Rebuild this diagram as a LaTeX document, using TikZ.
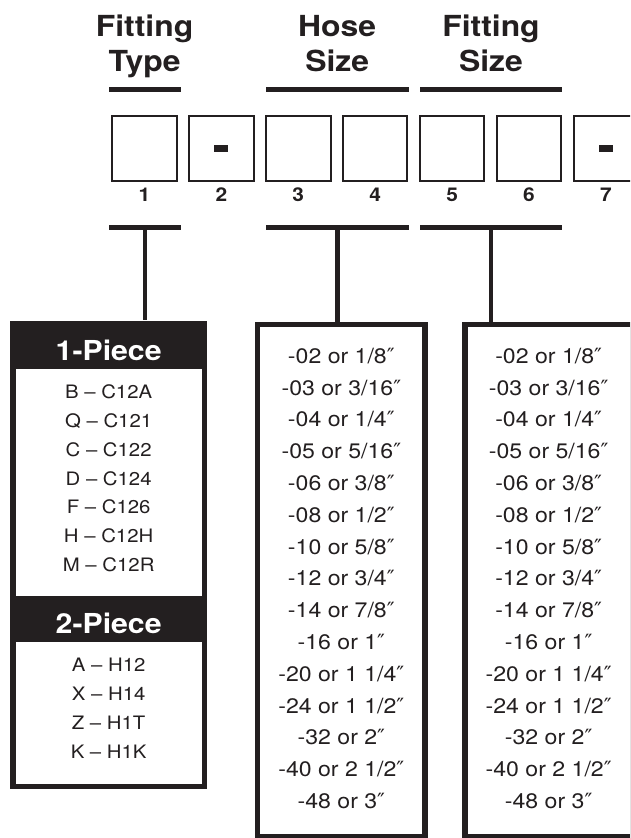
\documentclass[tikz,border=0pt]{standalone}
\usepackage{fontspec}
\setmainfont[FakeStretch=1.1]{TeX Gyre Heros}
\newfontfamily\primefont{DejaVu Sans}
\newcommand{\inchmark}{{\primefont\char"2033}}
\definecolor{ink}{RGB}{35,31,32}

\tikzset{every picture/.style={line width=0.75pt}}
\tikzset{
  headtext/.style={font=\bfseries\fontsize{29}{35}\selectfont, align=center, inner sep=0pt, text=ink, anchor=base},
  digitbox/.style={draw=ink, line width=2pt, minimum width=64.5pt, minimum height=64.7pt, inner sep=0pt},
  digitnum/.style={font=\bfseries\fontsize{19}{19}\selectfont, inner sep=0pt, text=ink, anchor=base},
  dashmark/.style={fill=ink, minimum width=14pt, minimum height=6.4pt, inner sep=0pt},
  groupbar/.style={fill=ink, minimum height=4.3pt, inner sep=0pt},
  stem/.style={draw=ink, line width=4.3pt},
  listbox/.style={draw=ink, fill=white, line width=5.3pt, inner sep=0pt},
  listtext/.style={font=\fontsize{21}{31.8}\selectfont, align=center, inner sep=0pt, text=ink, anchor=base},
  piecehead/.style={font=\bfseries\fontsize{27.5}{27.5}\selectfont, inner sep=0pt, text=white, anchor=base},
  piecetext/.style={font=\fontsize{18.5}{28.9}\selectfont, align=center, inner sep=0pt, text=ink, anchor=base}
}

\begin{document}
\begin{tikzpicture}[x=1pt,y=1pt,yscale=-1]
\useasboundingbox (0,0) rectangle (630,838);
\clip (0,0) rectangle (630,838);

% headings (base = last line)
\node[headtext] (typehead) at (144.6,71.7) {Fitting\\Type};
\node[headtext] (hosehead) at (337.2,71.7) {Hose\\Size};
\node[headtext] (sizehead) at (491,71.7) {Fitting\\Size};

% bars above and below the boxes
\node[groupbar, minimum width=72.3pt] (typetop) at (144.65,89.5) {};
\node[groupbar, minimum width=143pt] (hosetop) at (337.5,89.5) {};
\node[groupbar, minimum width=142pt] (sizetop) at (491,89.5) {};
\node[groupbar, minimum width=72.3pt] (typebar) at (144.65,227.5) {};
\node[groupbar, minimum width=143pt] (hosebar) at (337.5,227.5) {};
\node[groupbar, minimum width=142pt] (sizebar) at (491,227.5) {};

% code boxes
\foreach \i in {1,...,7} {
  \node[digitbox] (box\i) at ({144.5+76.9*(\i-1)},148.3) {};
  \node[digitnum] (num\i) at ({144.5+76.9*(\i-1)},201.7) {\i};
}
\node[dashmark] (dash2) at (box2.center) {};
\node[dashmark] (dash7) at (box7.center) {};

% fitting type table
\node[fill=ink, minimum width=197.3pt, minimum height=468.6pt, inner sep=0pt] (typelist) at (108.65,555) {};
\fill[white] (15.7,369) rectangle (202.3,596);
\fill[white] (15.7,641.7) rectangle (202.3,784);
\node[piecehead] (onepiece) at (108.65,360) {1-Piece};
\node[piecetext] (onelist) at (108.65,571.7) {B – C12A\\Q – C121\\C – C122\\D – C124\\F – C126\\H – C12H\\M – C12R};
\node[piecehead] (twopiece) at (108.65,633) {2-Piece};
\node[piecetext] (twolist) at (108.65,758) {A – H12\\X – H14\\Z – H1T\\K – H1K};

% size tables
\node[listbox, minimum width=167.4pt, minimum height=512pt] (hoselist) at (341.35,580.35) {};
\node[listbox, minimum width=167.4pt, minimum height=512pt] (sizelist) at (548.65,580.35) {};
\foreach \col/\x in {hosetext/341.35, sizetext/548.65}
  \node[listtext] (\col) at (\x,808.5) {-02 or 1/8\inchmark\\-03 or 3/16\inchmark\\-04 or 1/4\inchmark\\-05 or 5/16\inchmark\\-06 or 3/8\inchmark\\-08 or 1/2\inchmark\\-10 or 5/8\inchmark\\-12 or 3/4\inchmark\\-14 or 7/8\inchmark\\-16 or 1\inchmark\\-20 or 1 1/4\inchmark\\-24 or 1 1/2\inchmark\\-32 or 2\inchmark\\-40 or 2 1/2\inchmark\\-48 or 3\inchmark};

% stems
\draw[stem] (typebar.center) -- (typelist.north -| typebar.center);
\draw[stem] (hosebar.center) -- (hoselist.north -| hosebar.center);
\draw[stem] (sizebar.center) -- (sizelist.north -| sizebar.center);
\end{tikzpicture}
\end{document}
